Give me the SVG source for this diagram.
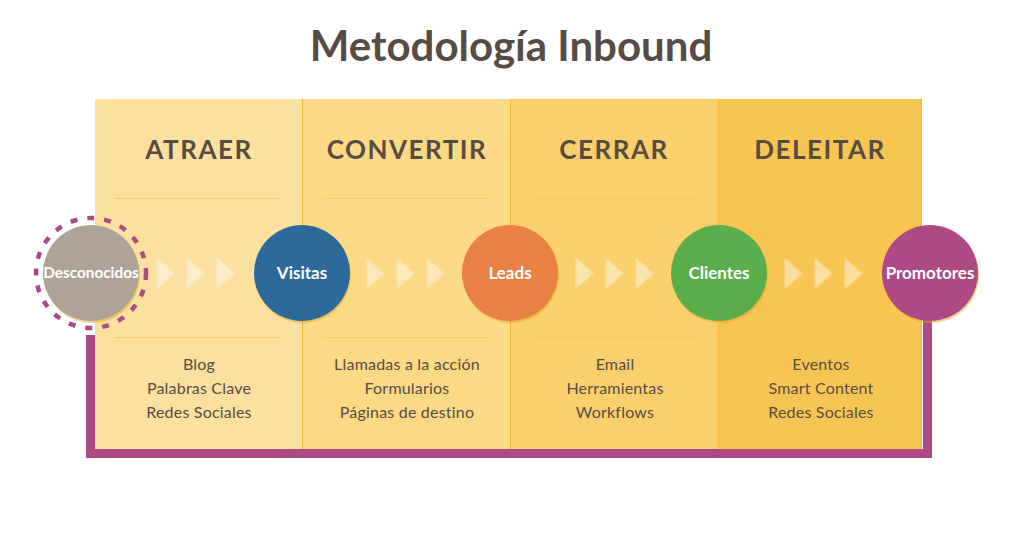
<svg xmlns="http://www.w3.org/2000/svg" width="1021" height="545" viewBox="0 0 1021 545">
<defs>
<style>
.title{font-family:Lato,"Open Sans",sans-serif;font-weight:700;font-size:42px;fill:#574C44;text-anchor:middle}
.head{font-family:Lato,"Open Sans",sans-serif;font-weight:700;font-size:26px;fill:#574C44;text-anchor:middle;letter-spacing:1.5px}
.item{font-family:Lato,"Open Sans",sans-serif;font-size:16px;fill:#574C44;text-anchor:middle;letter-spacing:0.2px}
.node{font-family:Lato,"Open Sans",sans-serif;font-weight:700;font-size:17px;fill:#fff;text-anchor:middle}
.sep{stroke:#F5C24A;stroke-width:1;opacity:0.6}
.col{stroke:#F3B53A;stroke-width:1}
.tri{fill:#fff;opacity:0.45;stroke:#fff;stroke-opacity:0.45;stroke-width:3;stroke-linejoin:round}
.shadow{fill:#E9A820;opacity:0.5}
</style>
<g id="chev">
<path class="tri" d="M1.5,1.5 L17.5,15.5 L1.5,29.5 Z"/>
<path class="tri" d="M31.5,1.5 L47.5,15.5 L31.5,29.5 Z"/>
<path class="tri" d="M61.5,1.5 L77.5,15.5 L61.5,29.5 Z"/>
</g>
</defs>
<rect width="1021" height="545" fill="#fff"/>
<text class="title" x="511" y="61">Metodología Inbound</text>

<g id="frame">
<path d="M90.5,335 V453.5 H927.5 V320" fill="none" stroke="#AD4A85" stroke-width="9"/>
</g>

<g id="panels">
<rect x="95" y="99" width="207" height="350" fill="#FCE0A0"/>
<rect x="302" y="99" width="208" height="350" fill="#FBD985"/>
<rect x="510" y="99" width="208" height="350" fill="#F9D06C"/>
<rect x="718" y="99" width="204" height="350" fill="#F8C552"/>
<line class="col" x1="302.5" y1="99" x2="302.5" y2="449"/>
<line class="col" x1="510.5" y1="99" x2="510.5" y2="449"/>
<line class="col" x1="718.5" y1="99" x2="718.5" y2="449"/>
<line class="col" x1="921.5" y1="99" x2="921.5" y2="449"/>
<line class="sep" x1="115" y1="198.5" x2="282" y2="198.5"/>
<line class="sep" x1="323" y1="198.5" x2="490" y2="198.5"/>
<line class="sep" x1="531" y1="198.5" x2="698" y2="198.5"/>
<line class="sep" x1="738" y1="198.5" x2="902" y2="198.5"/>
<line class="sep" x1="115" y1="337.5" x2="282" y2="337.5"/>
<line class="sep" x1="323" y1="337.5" x2="490" y2="337.5"/>
<line class="sep" x1="531" y1="337.5" x2="698" y2="337.5"/>
<line class="sep" x1="738" y1="337.5" x2="902" y2="337.5"/>
</g>

<g id="col-atraer">
<text class="head" x="199" y="159">ATRAER</text>
<text class="item" x="199" y="370">Blog</text>
<text class="item" x="199" y="394">Palabras Clave</text>
<text class="item" x="199" y="418">Redes Sociales</text>
</g>
<g id="col-convertir">
<text class="head" x="407" y="159">CONVERTIR</text>
<text class="item" x="407" y="370">Llamadas a la acción</text>
<text class="item" x="407" y="394">Formularios</text>
<text class="item" x="407" y="418">Páginas de destino</text>
</g>
<g id="col-cerrar">
<text class="head" x="614" y="159">CERRAR</text>
<text class="item" x="615" y="370">Email</text>
<text class="item" x="615" y="394">Herramientas</text>
<text class="item" x="615" y="418">Workflows</text>
</g>
<g id="col-deleitar">
<text class="head" x="820" y="159">DELEITAR</text>
<text class="item" x="821" y="370">Eventos</text>
<text class="item" x="821" y="394">Smart Content</text>
<text class="item" x="821" y="418">Redes Sociales</text>
</g>

<g id="connectors">
<use href="#chev" x="156" y="258"/>
<use href="#chev" x="366" y="258"/>
<use href="#chev" x="575" y="258"/>
<use href="#chev" x="784" y="258"/>
</g>

<g id="node-desconocidos">
<circle cx="91" cy="273" r="55" fill="none" stroke="#AD4A85" stroke-width="4.5" stroke-dasharray="7 10"/>
<circle class="shadow" cx="92" cy="275" r="48"/>
<circle cx="91" cy="273" r="48" fill="#AFA398"/>
<text class="node" x="91" y="278" style="font-size:15.3px">Desconocidos</text>
</g>
<g id="node-visitas">
<circle class="shadow" cx="303" cy="275" r="48"/>
<circle cx="302" cy="273" r="48" fill="#2D6A9C"/>
<text class="node" x="302" y="279">Visitas</text>
</g>
<g id="node-leads">
<circle class="shadow" cx="511" cy="275" r="48"/>
<circle cx="510" cy="273" r="48" fill="#E98044"/>
<text class="node" x="510" y="279">Leads</text>
</g>
<g id="node-clientes">
<circle class="shadow" cx="720" cy="275" r="48"/>
<circle cx="719" cy="273" r="48" fill="#5AAE4C"/>
<text class="node" x="719" y="279">Clientes</text>
</g>
<g id="node-promotores">
<circle class="shadow" cx="931" cy="275" r="48"/>
<circle cx="930" cy="273" r="48" fill="#AD4A85"/>
<text class="node" x="930" y="279">Promotores</text>
</g>
</svg>
